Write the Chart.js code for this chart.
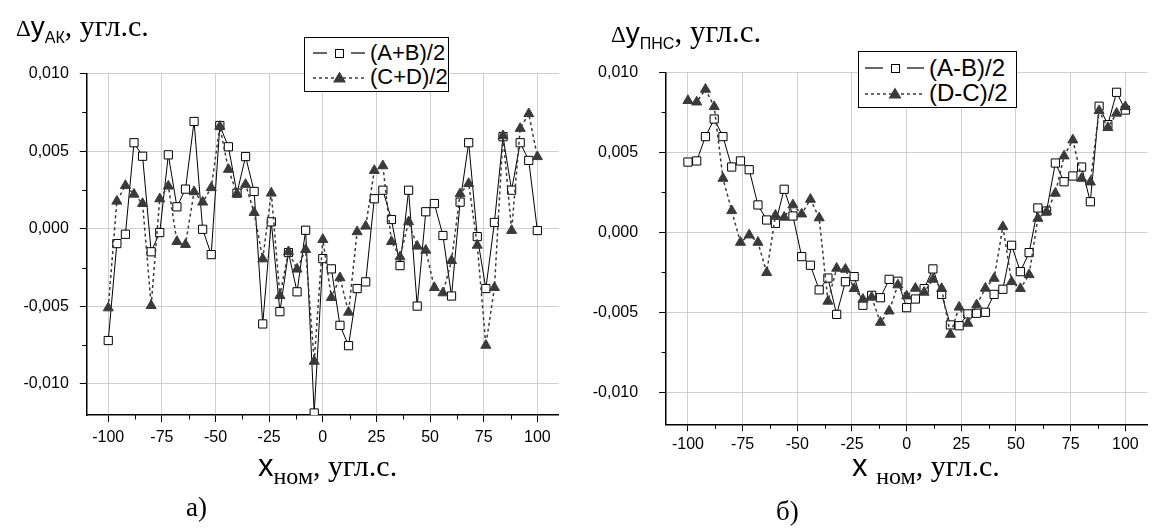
<!DOCTYPE html>
<html><head><meta charset="utf-8">
<script src="https://cdn.jsdelivr.net/npm/chart.js@4/dist/chart.umd.min.js"></script>
<style>
html,body{margin:0;padding:0;background:#fff;width:1153px;height:529px;overflow:hidden;position:relative;}
canvas{position:absolute;top:0;}
.t{position:absolute;white-space:nowrap;color:#000;line-height:1;}
.serif{font-family:"Liberation Serif","Times New Roman",serif;}
.sans{font-family:"Liberation Sans",Arial,sans-serif;}
.lg{position:absolute;border:1px solid #000;background:#fff;box-sizing:border-box;}
.row{position:absolute;left:0;height:24px;display:flex;align-items:center;font-family:"Liberation Sans",Arial,sans-serif;color:#000;white-space:nowrap;}
.row svg{position:absolute;top:5px;}
.row span{position:absolute;}
</style></head><body>
<canvas id="cA" width="570" height="529" style="left:0"></canvas>
<canvas id="cB" width="584" height="529" style="left:570px"></canvas>

<div class="t" style="left:16px;top:11px;"><span class="serif" style="font-size:23px">Δ</span><span class="sans" style="font-size:28px">y</span><span class="sans" style="font-size:16px;position:relative;top:7px">АК</span><span class="serif" style="font-size:30px">, угл.с.</span></div>
<div class="t" style="left:611px;top:16px;"><span class="serif" style="font-size:23px">Δ</span><span class="sans" style="font-size:28px">y</span><span class="sans" style="font-size:16px;position:relative;top:7px">ПНС</span><span class="serif" style="font-size:31px">, угл.с.</span></div>

<div class="t" style="left:258px;top:450px;"><span class="sans" style="font-size:31px">x</span><span class="serif" style="font-size:24px;position:relative;top:8px">ном</span><span class="serif" style="font-size:30px">, угл.с.</span></div>
<div class="t" style="left:852px;top:450px;"><span class="sans" style="font-size:31px">x </span><span class="serif" style="font-size:24px;position:relative;top:8px">ном</span><span class="serif" style="font-size:30px">, угл.с.</span></div>
<div class="t serif" style="left:186px;top:494px;font-size:27px">а)</div>
<div class="t serif" style="left:776px;top:498px;font-size:27px">б)</div>

<div class="lg" style="left:304px;top:37px;width:145px;height:55px;">
  <div class="row" style="top:3px;font-size:22px;">
    <svg style="left:8px" width="56" height="14"><line x1="0" y1="7" x2="14" y2="7" stroke="#000" stroke-width="1.2"/><rect x="22.5" y="3.5" width="8" height="8" fill="#fff" stroke="#000"/><line x1="38" y1="7" x2="52" y2="7" stroke="#000" stroke-width="1.2"/></svg>
    <span style="left:65px">(A+B)/2</span>
  </div>
  <div class="row" style="top:27px;font-size:22px;">
    <svg style="left:8px" width="56" height="14"><line x1="0" y1="8" x2="53" y2="8" stroke="#3a3a3a" stroke-width="1.5" stroke-dasharray="3,3"/><polygon points="26.5,1.5 33,12.5 20,12.5" fill="#3a3a3a"/></svg>
    <span style="left:65px">(C+D)/2</span>
  </div>
</div>

<div class="lg" style="left:858px;top:51px;width:159px;height:57px;">
  <div class="row" style="top:4px;font-size:24px;">
    <svg style="left:6px" width="60" height="14"><line x1="0" y1="7" x2="18" y2="7" stroke="#000" stroke-width="1.2"/><rect x="26.5" y="3.5" width="8" height="8" fill="#fff" stroke="#000"/><line x1="42" y1="7" x2="59" y2="7" stroke="#000" stroke-width="1.2"/></svg>
    <span style="left:70px">(A-B)/2</span>
  </div>
  <div class="row" style="top:29px;font-size:24px;">
    <svg style="left:6px" width="60" height="14"><line x1="0" y1="8" x2="60" y2="8" stroke="#3a3a3a" stroke-width="1.5" stroke-dasharray="3,3"/><polygon points="30,1.5 36.5,12.5 23.5,12.5" fill="#3a3a3a"/></svg>
    <span style="left:70px">(D-C)/2</span>
  </div>
</div>

<script>
// ---- data ----
const xNom = [-100,-96,-92,-88,-84,-80,-76,-72,-68,-64,-60,-56,-52,-48,-44,-40,-36,-32,-28,-24,-20,-16,-12,-8,-4,0,4,8,12,16,20,24,28,32,36,40,44,48,52,56,60,64,68,72,76,80,84,88,92,96,100];

const akApB = [-0.0072,-0.00095,-0.00035,0.00555,0.00468,-0.00148,-0.00024,0.00477,0.00142,0.00256,0.00692,-0.00003,-0.00166,0.00666,0.00529,0.0023,0.00466,0.00241,-0.00613,0.00045,-0.00534,-0.00153,-0.00406,-0.00009,-0.01187,-0.00192,-0.00258,-0.00622,-0.00753,-0.00385,-0.00342,0.00194,0.00249,0.0006,-0.00237,0.00249,-0.00498,0.0011,0.00163,-0.00043,-0.00433,0.00172,0.00555,-0.0005,-0.00385,0.00041,0.00594,0.00249,0.00555,0.00441,-0.00011];

const akCpD = [-0.0051,0.00178,0.00279,0.00223,0.00163,-0.00495,0.00193,0.00275,-0.00082,-0.00101,0.00239,0.00172,0.00265,0.0066,0.00383,0.00226,0.00286,0.00105,-0.00194,0.0023,-0.0043,-0.00148,-0.0026,-0.00134,-0.00854,-0.00069,-0.00443,-0.00316,-0.00538,-0.00019,0.00017,0.00376,0.00406,-0.00082,-0.00181,0.00045,-0.00112,-0.00138,-0.00379,-0.00413,-0.00205,0.00226,0.00292,-0.00106,-0.00751,-0.00379,0.006,-0.00011,0.00647,0.00742,0.00465];

const pnsAmB = [0.00439,0.00446,0.00598,0.00708,0.00598,0.00408,0.00446,0.00391,0.00171,0.00077,0.00056,0.00269,0.00102,-0.00152,-0.00206,-0.0036,-0.00286,-0.00513,-0.00309,-0.00277,-0.00456,-0.00394,-0.00409,-0.00294,-0.00306,-0.00471,-0.00417,-0.00352,-0.00229,-0.00388,-0.00579,-0.00584,-0.0051,-0.00506,-0.005,-0.00388,-0.00356,-0.00081,-0.00246,-0.00127,0.00152,0.00133,0.00433,0.00316,0.00352,0.00408,0.00191,0.00788,0.00673,0.00875,0.00764];

const pnsDmC = [0.00823,0.00814,0.00894,0.00785,0.00337,0.00135,-0.00063,-0.00017,-0.00063,-0.00252,0.00106,0.00094,0.00171,0.00114,0.00206,0.0009,-0.00431,-0.00225,-0.00231,-0.00352,-0.00419,-0.00406,-0.00563,-0.00492,-0.00329,-0.00398,-0.0035,-0.00375,-0.00294,-0.00352,-0.00638,-0.00468,-0.00569,-0.00454,-0.0035,-0.00288,0.00035,-0.00309,-0.00352,-0.00265,0.00087,0.00129,0.00244,0.00477,0.00577,0.00337,0.00314,0.0076,0.00654,0.00744,0.00785];

const xMajorTicks = [-100,-75,-50,-25,0,25,50,75,100];
const xMinorTicks = [-87.5,-62.5,-37.5,-12.5,12.5,37.5,62.5,87.5];
const yMajorTicks = [-0.010,-0.005,0,0.005,0.010];
const yMinorTicks = [-0.0075,-0.0025,0.0025,0.0075];

const seriesA = {labels:['(A+B)/2','(C+D)/2'], s1: akApB, s2: akCpD};
const seriesB = {labels:['(A-B)/2','(D-C)/2'], s1: pnsAmB, s2: pnsDmC};

// ---- drawing ----
const minorTicks = {
  id:'minorTicks',
  afterDraw(chart){
    const {ctx, chartArea:a, scales:{x,y}} = chart;
    ctx.save(); ctx.strokeStyle='#000'; ctx.lineWidth=1; ctx.beginPath();
    xMinorTicks.forEach(v=>{const p=Math.round(x.getPixelForValue(v))+0.5; ctx.moveTo(p,a.bottom); ctx.lineTo(p,a.bottom+4.5);});
    yMinorTicks.forEach(v=>{const p=Math.round(y.getPixelForValue(v))+0.5; ctx.moveTo(a.left,p); ctx.lineTo(a.left-4.5,p);});
    ctx.stroke(); ctx.restore();
  }
};

function makeChart(id, ser, geo){
  const pts = arr => xNom.map((x,i)=>({x:x, y:arr[i]}));
  return new Chart(document.getElementById(id), {
    type:'line',
    data:{datasets:[
      {label:ser.labels[0], data:pts(ser.s1), borderColor:'#000', borderWidth:1, pointStyle:'rect', pointRadius:5.8, pointBackgroundColor:'#fff', pointBorderColor:'#000', pointBorderWidth:1, tension:0, order:2, fill:false},
      {label:ser.labels[1], data:pts(ser.s2), borderColor:'#3a3a3a', borderWidth:1.5, borderDash:[3,3], pointStyle:'triangle', pointRadius:5.8, pointBackgroundColor:'#3a3a3a', pointBorderColor:'#3a3a3a', pointBorderWidth:1, tension:0, order:1, fill:false}
    ]},
    options:{
      responsive:false, animation:false, events:[],
      layout:{padding:geo.padding},
      plugins:{legend:{display:false}, tooltip:{enabled:false}},
      scales:{
        x:{type:'linear', min:-110, max:110,
          afterBuildTicks: s => { s.ticks = xMajorTicks.map(v=>({value:v})); },
          afterFit: s => { s.height = 40; },
          ticks:{autoSkip:false, maxRotation:0, padding:geo.xPad, color:'#000', font:{family:'"Liberation Sans", Arial, sans-serif', size:16}, callback:v=>String(v)},
          grid:{color:'#cfcfcf', lineWidth:1, tickColor:'#000', tickLength:7, tickWidth:1},
          border:{color:'#000', width:1.5}
        },
        y:{type:'linear', min:-0.012, max:0.010,
          afterBuildTicks: s => { s.ticks = yMajorTicks.map(v=>({value:v})); },
          afterFit: s => { s.width = geo.yW; },
          ticks:{autoSkip:false, padding:geo.yPad, color:'#000', font:{family:'"Liberation Sans", Arial, sans-serif', size:16}, callback:v=>(Math.round(v*1000)/1000).toFixed(3).replace('.',',')},
          grid:{color:'#cfcfcf', lineWidth:1, tickColor:'#000', tickLength:7, tickWidth:1},
          border:{color:'#000', width:1.5}
        }
      }
    },
    plugins:[minorTicks]
  });
}

makeChart('cA', seriesA, {padding:{left:6.8, right:11.2, top:73.7, bottom:74}, xPad:6, yPad:11, yW:80});
makeChart('cB', seriesB, {padding:{left:4.1, right:0, top:72.3, bottom:64.7}, xPad:4, yPad:21, yW:92});
</script>
</body></html>
